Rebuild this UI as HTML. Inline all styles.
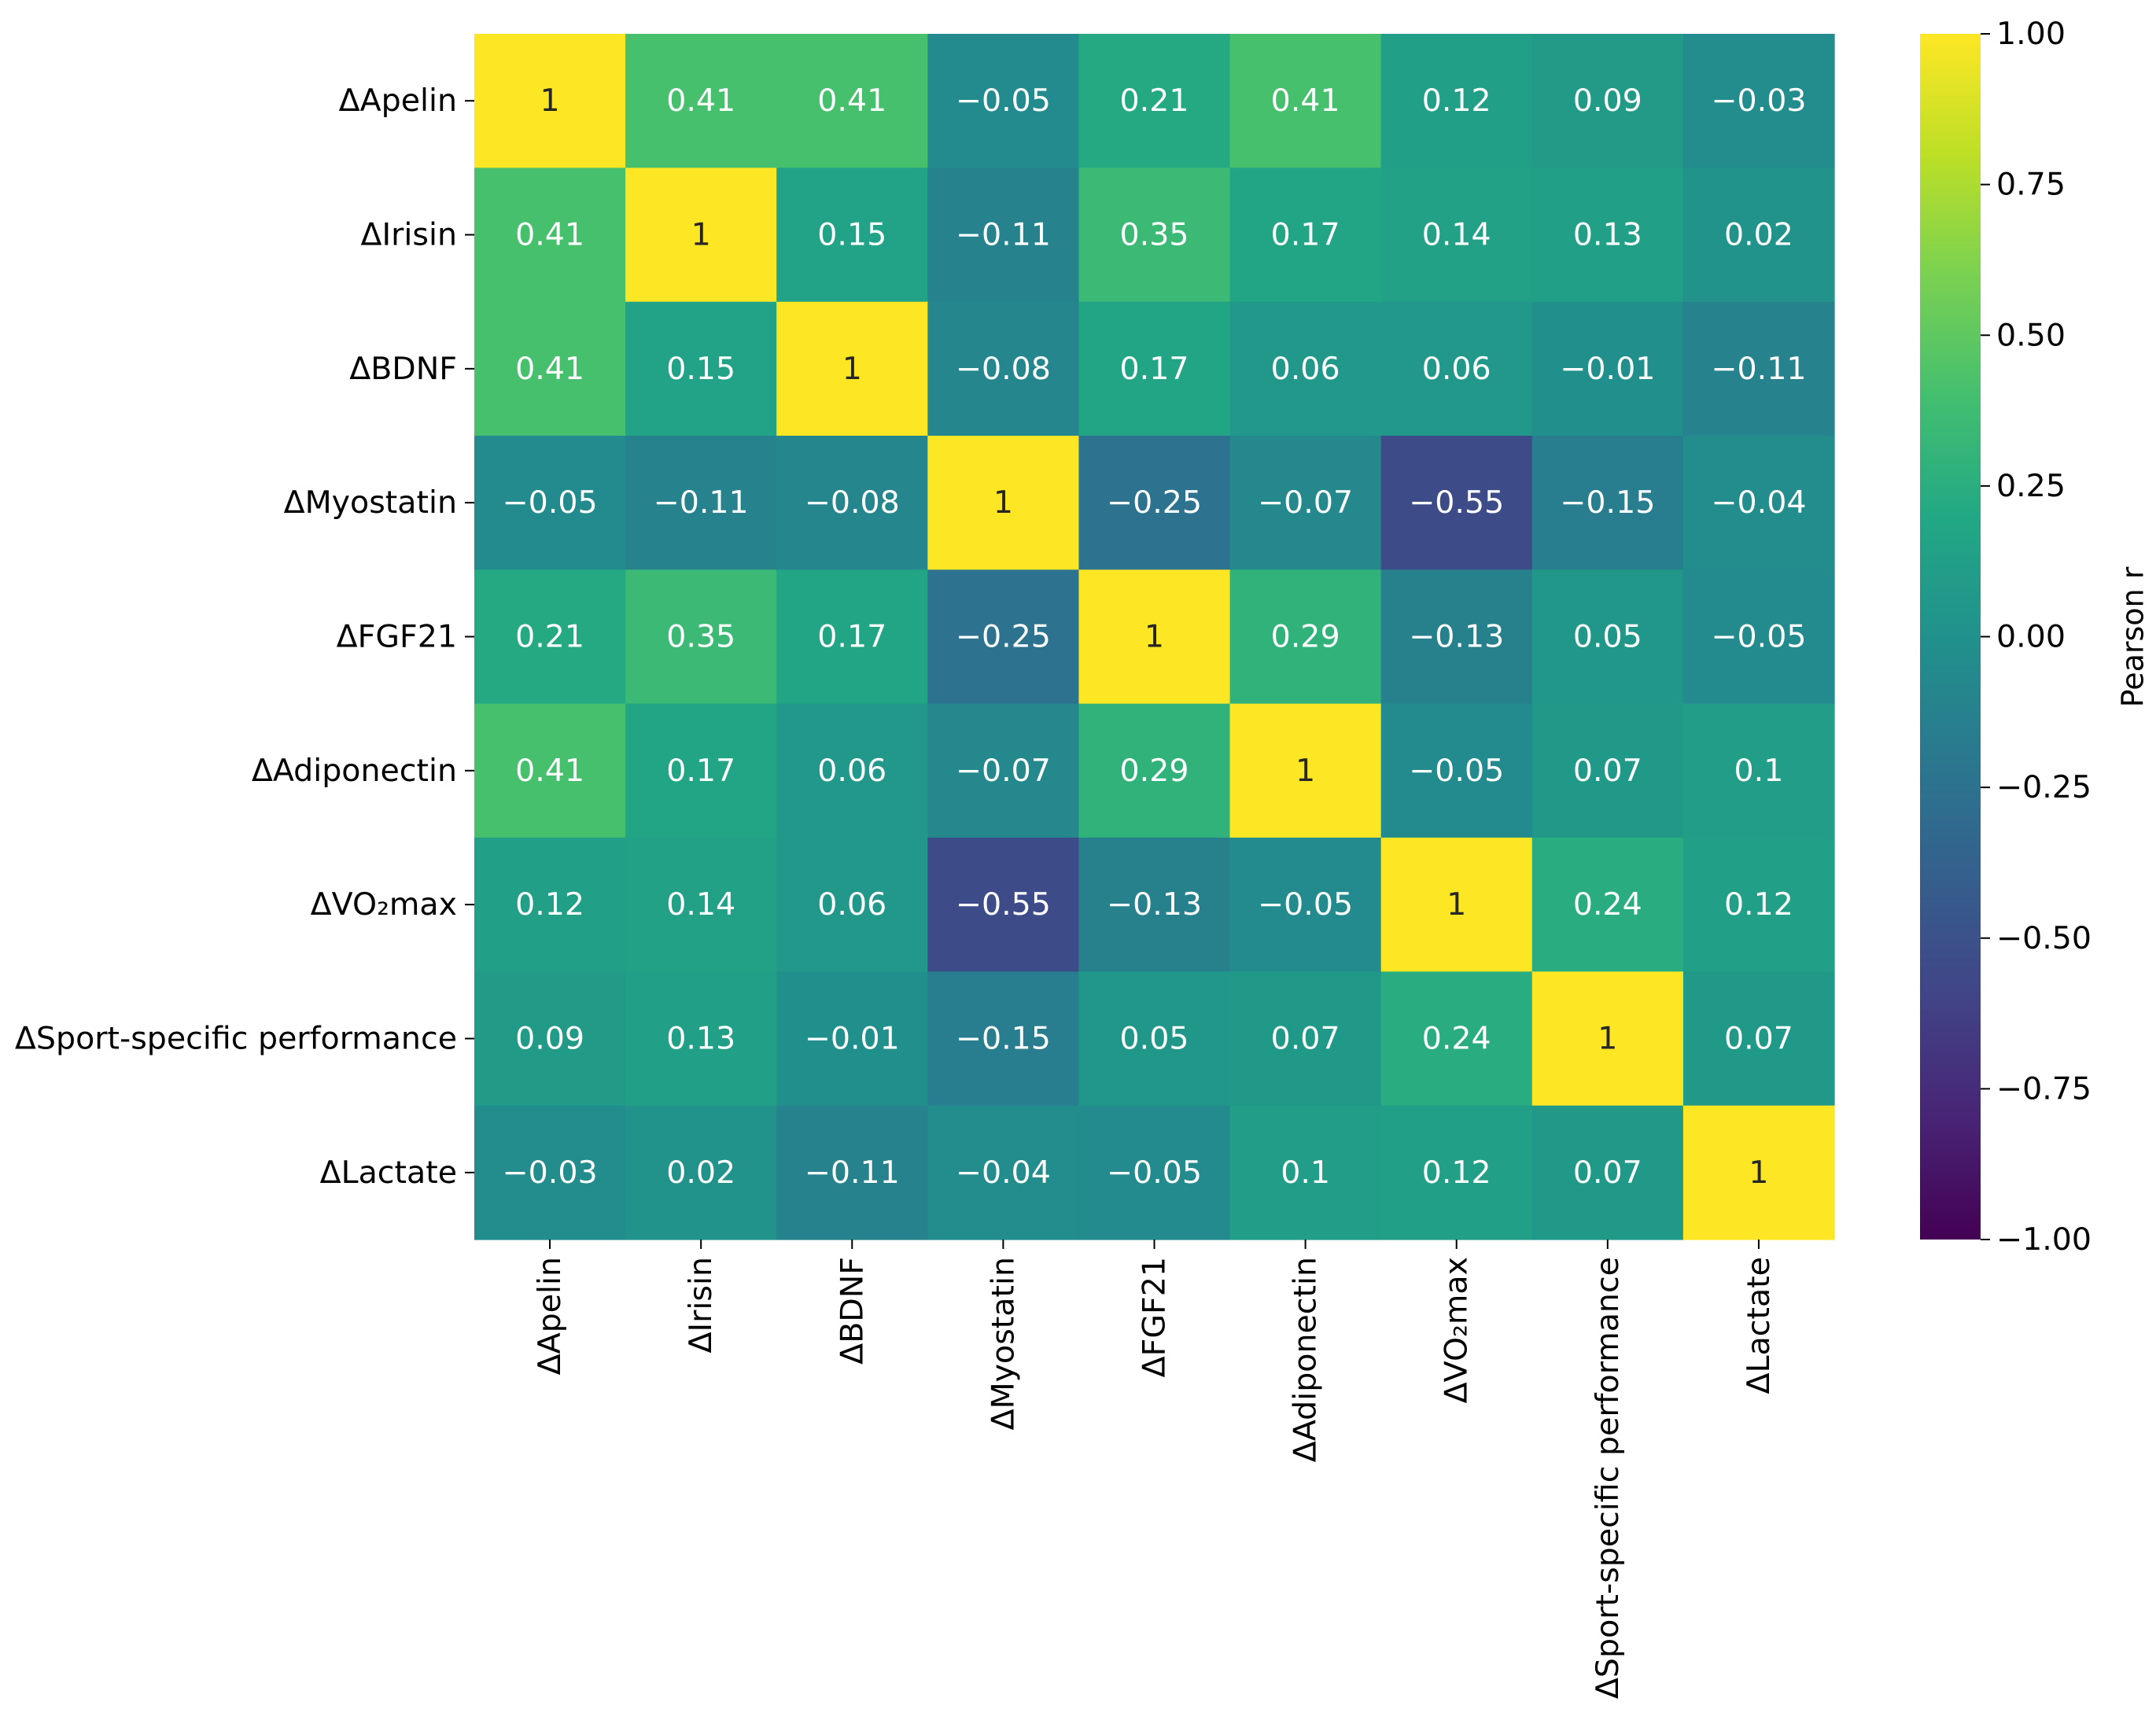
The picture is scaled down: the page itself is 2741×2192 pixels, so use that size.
<!DOCTYPE html>
<html><head><meta charset="utf-8">
<style>
html,body{margin:0;padding:0;background:#fff;}
svg{display:block;font-family:"DejaVu Sans","Liberation Sans",sans-serif;}
</style></head>
<body>
<svg id="chart" width="2741" height="2192" viewBox="0 0 2741 2192" xmlns="http://www.w3.org/2000/svg">
<defs>
<linearGradient id="vir" x1="0" y1="1" x2="0" y2="0">
<stop offset="0" stop-color="#440154"/><stop offset="0.1" stop-color="#482475"/><stop offset="0.2" stop-color="#414487"/><stop offset="0.3" stop-color="#355f8d"/><stop offset="0.4" stop-color="#2a788e"/><stop offset="0.5" stop-color="#21918c"/><stop offset="0.6" stop-color="#22a884"/><stop offset="0.7" stop-color="#44bf70"/><stop offset="0.8" stop-color="#7ad151"/><stop offset="0.9" stop-color="#bddf26"/><stop offset="1" stop-color="#fde725"/>
</linearGradient>
</defs>
<g id="cells"></g>
<g id="ylabels"></g>
<g id="xlabels"></g>
<rect x="2441" y="43" width="77" height="1533" fill="url(#vir)"/>
<g id="cbticks"></g>
<text x="2714" y="810" font-size="38" text-anchor="middle" transform="rotate(-90 2714 810)" dominant-baseline="middle">Pearson r</text>
</svg>
<script>
const labels = ["ΔApelin","ΔIrisin","ΔBDNF","ΔMyostatin","ΔFGF21","ΔAdiponectin","ΔVO₂max","ΔSport-specific performance","ΔLactate"];
const row0 = [1,0.41,0.41,-0.05,0.21,0.41,0.12,0.09,-0.03];
const row1 = [0.41,1,0.15,-0.11,0.35,0.17,0.14,0.13,0.02];
const row2 = [0.41,0.15,1,-0.08,0.17,0.06,0.06,-0.01,-0.11];
const row3 = [-0.05,-0.11,-0.08,1,-0.25,-0.07,-0.55,-0.15,-0.04];
const row4 = [0.21,0.35,0.17,-0.25,1,0.29,-0.13,0.05,-0.05];
const row5 = [0.41,0.17,0.06,-0.07,0.29,1,-0.05,0.07,0.1];
const row6 = [0.12,0.14,0.06,-0.55,-0.13,-0.05,1,0.24,0.12];
const row7 = [0.09,0.13,-0.01,-0.15,0.05,0.07,0.24,1,0.07];
const row8 = [-0.03,0.02,-0.11,-0.04,-0.05,0.1,0.12,0.07,1];
const matrix = [row0,row1,row2,row3,row4,row5,row6,row7,row8];
const cbTicks = [1,0.75,0.5,0.25,0,-0.25,-0.5,-0.75,-1];

const NS="http://www.w3.org/2000/svg";
const FS=39.5;
const X0=603,X1=2332,Y0=43,Y1=1576,CB0=2441,CB1=2518;
const n=labels.length, cw=(X1-X0)/n, ch=(Y1-Y0)/n;
const xs=i=>X0+i*cw, ys=i=>Y0+i*ch;
const cbY=v=>Y0+(1-v)/2*(Y1-Y0);
const stops=[[68,1,84],[72,36,117],[65,68,135],[53,95,141],[42,120,142],[33,145,140],[34,168,132],[68,191,112],[122,209,81],[189,223,38],[253,231,37]];
function vir(v){let t=(v+1)/2*10;t=Math.max(0,Math.min(10,t));const i=Math.min(9,Math.floor(t)),f=t-i;
const a=stops[i],b=stops[i+1];return a.map((c,k)=>Math.round(c+(b[k]-c)*f));}
function fmt(v){return (v<0?"\u2212":"")+String(Math.abs(v));}
function mk(tag,attrs,parent){const e=document.createElementNS(NS,tag);for(const k in attrs)e.setAttribute(k,attrs[k]);parent.appendChild(e);return e;}
const cells=document.getElementById('cells');
for(let r=0;r<n;r++)for(let c=0;c<n;c++){
 const v=matrix[r][c],col=vir(v);
 const rc=mk('rect',{x:xs(c),y:ys(r),width:cw+0.6,height:ch+0.6,fill:`rgb(${col})`},cells);
 
 
 const t=mk('text',{x:xs(c)+cw/2,y:ys(r)+ch/2,'font-size':FS,'text-anchor':'middle','dominant-baseline':'central',fill:v>0.8?'#262626':'#ffffff'},cells);
 
 
 t.textContent=fmt(v);
}
const yl=document.getElementById('ylabels'),xl=document.getElementById('xlabels');
labels.forEach((L,i)=>{
 const cy=ys(i)+ch/2;
 mk('line',{x1:X0-12,x2:X0,y1:cy,y2:cy,stroke:'#000','stroke-width':2},yl);
 const t=mk('text',{x:X0-22,y:cy,'font-size':FS,'text-anchor':'end','dominant-baseline':'central',fill:'#000'},yl);
 
 
 t.textContent=L;
 const cx=xs(i)+cw/2;
 mk('line',{x1:cx,x2:cx,y1:Y1,y2:Y1+12,stroke:'#000','stroke-width':2},xl);
 const ty=Y1+22;
 const u=mk('text',{x:cx,y:ty,'font-size':FS,'text-anchor':'end','dominant-baseline':'central',fill:'#000',transform:`rotate(-90 ${cx} ${ty})`},xl);
 
 
 u.textContent=L;
});
const cb=document.getElementById('cbticks');
cbTicks.forEach(v=>{
 const y=cbY(v);
 mk('line',{x1:CB1,x2:CB1+12,y1:y,y2:y,stroke:'#000','stroke-width':2},cb);
 const t=mk('text',{x:CB1+20,y:y,'font-size':FS,'dominant-baseline':'central',fill:'#000'},cb);
 
 
 t.textContent=(v<0?"\u2212":"")+Math.abs(v).toFixed(2);
});
</script>
</body></html>
